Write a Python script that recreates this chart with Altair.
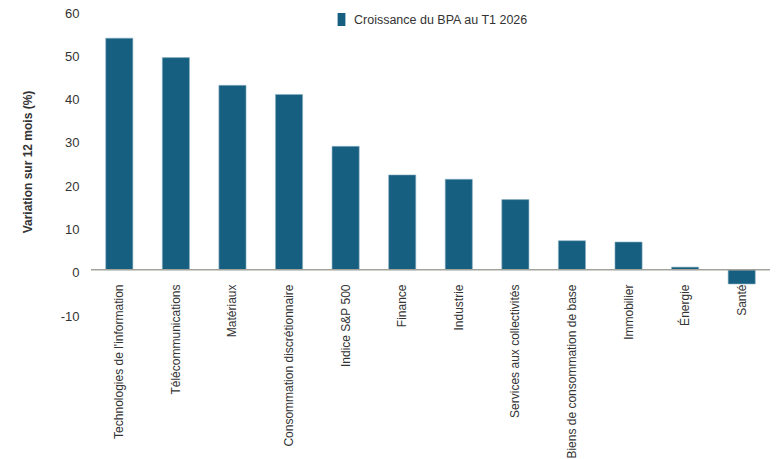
import altair as alt
import pandas as pd

categories = ["Technologies de l'information", "Télécommunications", "Matériaux",
              "Consommation discrétionnaire", "Indice S&P 500", "Finance", "Industrie",
              "Services aux collectivités", "Biens de consommation de base", "Immobilier",
              "Énergie", "Santé"]
values = [53.5, 49.0, 42.6, 40.5, 28.5, 21.9, 20.9, 16.2, 6.7, 6.4, 0.6, -3.3]
series_name = "Croissance du BPA au T1 2026"
y_ticks = [-10, 0, 10, 20, 30, 40, 50, 60]
zero = [0]

df = pd.DataFrame({"cat": categories, "val": values, "series": series_name})
zdf = pd.DataFrame({"z": zero})

FONT = "Liberation Sans, Arial, sans-serif"
TXT = "#333333"
BAR = "#175f80"

x = alt.X("cat:N", sort=categories,
          scale=alt.Scale(paddingInner=0.52, paddingOuter=0.26),
          axis=alt.Axis(title=None, orient="bottom", offset=-43, domain=False, ticks=False,
                        labelAngle=270, labelPadding=14, labelFontSize=12, labelColor=TXT,
                        labelFont=FONT, labelLimit=300))
y = alt.Y("val:Q", scale=alt.Scale(domain=[-10, 60], nice=False, zero=False),
          axis=alt.Axis(values=y_ticks, title="Variation sur 12 mois (%)", grid=False,
                        domain=False, ticks=False, labelPadding=12, labelFontSize=13,
                        labelOffset=3, labelFont=FONT, labelColor=TXT,
                        labelExpr="'' + datum.value",
                        titleFontSize=12, titleFont=FONT, titleFontWeight="bold",
                        titlePadding=26, titleColor=TXT))

bars = alt.Chart(df).mark_bar(stroke="#8fb3c6", strokeWidth=0.6).encode(
    x=x, y=y,
    color=alt.Color("series:N", scale=alt.Scale(range=[BAR]),
                    legend=alt.Legend(title=None, orient="none", legendX=244, legendY=3,
                                      symbolType="M-0.6,-1H0.6V1H-0.6Z", symbolSize=169,
                                      symbolStrokeWidth=0, labelOffset=6, labelLimit=400,
                                      labelFontSize=12.5, labelFont=FONT, labelColor=TXT,
                                      padding=0)),
)

rule = alt.Chart(zdf).mark_rule(color="#a3a39c", strokeWidth=1.5).encode(
    y=alt.Y("z:Q")
)

chart = alt.layer(bars, rule).properties(
    width=679, height=303,
    autosize=alt.AutoSizeParams(type="none"),
    padding={"left": 91, "top": 10, "right": 13, "bottom": 146},
    background="white",
).configure_view(stroke=None)

chart.save("out.html", embed_options={"renderer": "svg", "actions": False})
